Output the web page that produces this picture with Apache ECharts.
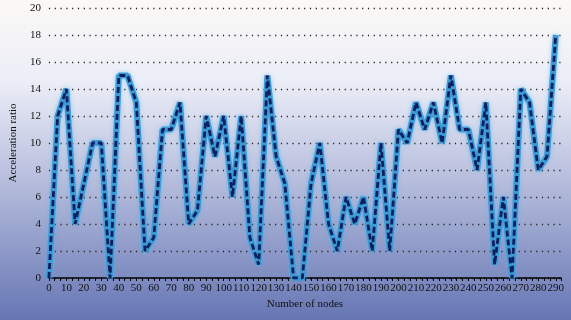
<!DOCTYPE html>
<html>
<head>
<meta charset="utf-8">
<script src="https://cdn.jsdelivr.net/npm/echarts@6/dist/echarts.min.js"></script>
<style>
html,body{margin:0;padding:0;}
#c{width:571px;height:320px;}
</style>
</head>
<body>
<div id="c"></div>
<script>
var nodes = [0,5,10,15,20,25,30,35,40,45,50,55,60,65,70,75,80,85,90,95,100,105,110,115,120,125,130,135,140,145,150,155,160,165,170,175,180,185,190,195,200,205,210,215,220,225,230,235,240,245,250,255,260,265,270,275,280,285,290];
var ratio = [0,12,14,4,7,10,10,0,15,15,13,2,3,11,11,13,4,5,12,9,12,6,12,3,1,15,9,7,0,0,7,10,4,2,6,4,6,2,10,2,11,10,13,11,13,10,15,11,11,8,13,1,6,0,14,13,8,9,18];
var xTitle = 'Number of nodes';
var yTitle = 'Acceleration ratio';

var pts = nodes.map(function(x,i){return [x, ratio[i]];});
var chart = echarts.init(document.getElementById('c'));
var font = 'Liberation Serif';
chart.setOption({
  animation:false,
  backgroundColor:{type:'linear',x:0,y:0,x2:0,y2:1,colorStops:[
    {offset:0,color:'#fbf9f6'},{offset:0.25,color:'#eceef7'},{offset:0.55,color:'#b9c0de'},{offset:1,color:'#6676b4'}]},
  grid:{left:47,right:10,top:8,bottom:42},
  xAxis:{type:'value',min:0,max:293,interval:10,
    name:xTitle,nameLocation:'middle',nameGap:17,
    nameTextStyle:{fontFamily:font,fontSize:11,color:'#111'},
    axisLine:{show:true,lineStyle:{color:'#000',width:1.5}},
    axisTick:{show:true,length:3,lineStyle:{color:'#000'}},
    minorTick:{show:true,splitNumber:3,length:3,lineStyle:{color:'#000'}},
    axisLabel:{fontFamily:font,fontSize:11,color:'#111',margin:5,showMaxLabel:false},
    splitLine:{show:false}},
  yAxis:{type:'value',min:0,max:20,interval:2,
    name:yTitle,nameLocation:'middle',nameGap:20,nameRotate:90,
    nameTextStyle:{fontFamily:font,fontSize:11,color:'#111'},
    axisLine:{show:false},axisTick:{show:false},
    axisLabel:{fontFamily:font,fontSize:11,color:'#111',margin:8},
    splitLine:{show:true,lineStyle:{color:'#222',type:[1.2,4.6],width:1.3}}},
  series:[
    {type:'line',data:pts,symbol:'none',z:2,
     lineStyle:{color:'#3c9bd6',width:6,shadowColor:'rgba(80,180,240,0.6)',shadowBlur:4}},
    {type:'line',data:pts,symbol:'none',z:3,
     lineStyle:{color:'#0f1f5e',width:2.8,type:[6,3]}}
  ]
});
</script>
</body>
</html>
